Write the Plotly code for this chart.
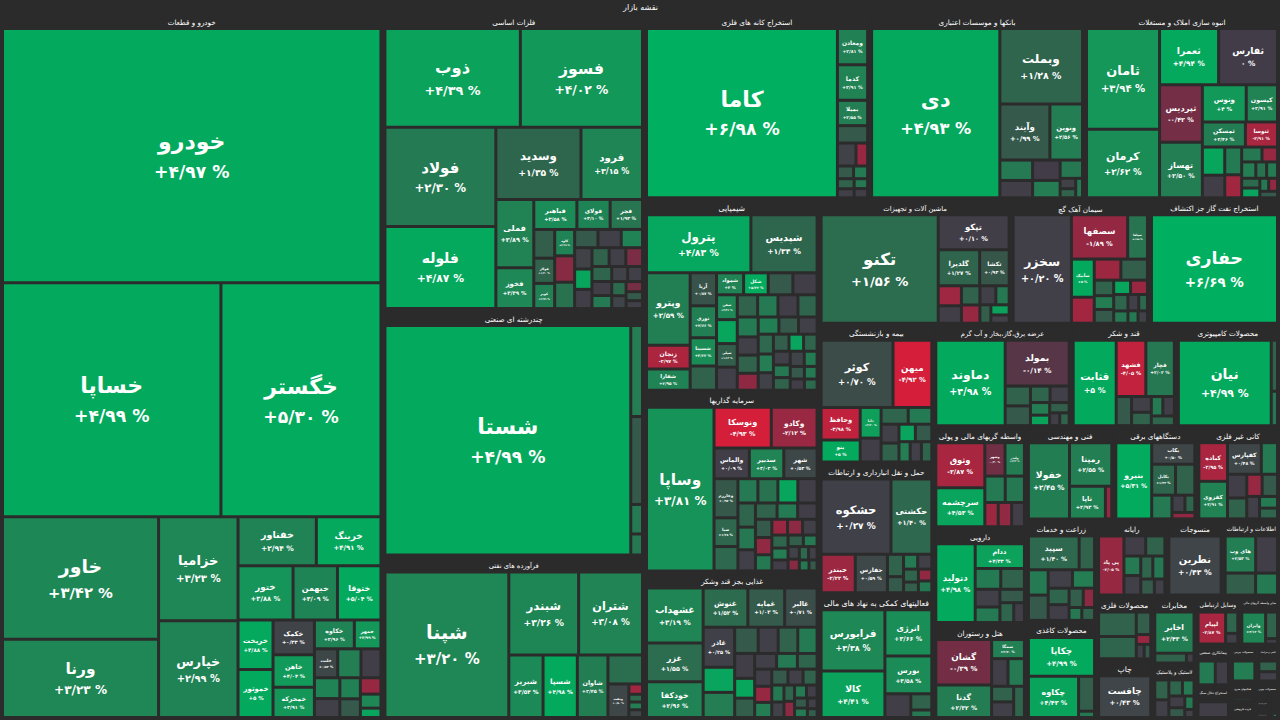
import math
import plotly.graph_objects as go

BG = "#2b2b2b"
FONT = "DejaVu Sans"

ROOT_LABEL = "نقشه بازار"

SECTORS = [
    "خودرو و قطعات", "فلزات اساسی", "چندرشته ای صنعتی", "فرآورده های نفتی",
    "استخراج کانه های فلزی", "بانکها و موسسات اعتباری", "انبوه سازی املاک و مستغلات",
    "شیمیایی", "سرمایه گذاریها", "غذایی بجز قند وشکر", "ماشین آلات و تجهیزات",
    "سیمان آهک گچ", "استخراج نفت گاز جز اکتشاف", "بیمه و بازنشستگی",
    "حمل و نقل انبارداری و ارتباطات", "فعالیتهای کمکی به نهاد های مالی",
    "عرضه برق،گاز،بخار و آب گرم", "قند و شکر", "محصولات کامپیوتری",
    "واسطه گریهای مالی و پولی", "دارویی", "هتل و رستوران", "فنی و مهندسی",
    "دستگاههای برقی", "کانی غیر فلزی", "زراعت و خدمات", "محصولات کاغذی",
    "رایانه", "منسوجات", "اطلاعات و ارتباطات", "محصولات فلزی", "چاپ", "مخابرات",
    "لاستیک و پلاستیک", "وسایل ارتباطی", "سایر واسطه گریهای مالی",
    "پیمانکاری صنعتی", "استخراج ذغال سنگ", "محصولات چرمی", "کاشی و سرامیک",
    "فعالیتهای هنری", "خرده فروشی", "محصولات چوبی", "استخراج سایر معادن",
    "فعالیتهای مهندسی",
]

# labelled symbols of each sector (market value, arbitrary units) and daily change (%)
STOCK_NAMES = [
    ["خودرو", "خساپا", "خگستر", "خاور", "ورنا", "خزامیا", "خپارس", "خفناور", "خرینگ", "ختور",
     "خبهمن", "ختوقا", "خریخت", "خموتور", "خکمک", "خاهن", "خمحرکه", "خکاوه", "خمهر", "خلنت"],
    ["ذوب", "فسوز", "فولاد", "فلوله", "وسدید", "فرود", "فملی", "فخوز", "فباهنر", "فولای",
     "فجر", "فولاژ", "کویر", "کاوه"],
    ["شستا"],
    ["شپنا", "شبندر", "شتران", "شبریز", "شسپا", "شاوان", "ونفت"],
    ["کاما", "ومعادن", "کدما", "بمیلا"],
    ["دی", "وبملت", "وآیند", "ونوین"],
    ["ثامان", "کرمان", "ثعمرا", "ثفارس", "ثپردیس", "تهساز", "ونوس", "کیسون", "ثمسکن", "ثنوسا"],
    ["پترول", "شپدیس", "وپترو", "زنجان", "شفارا", "آریا", "نوری", "شسینا", "شمواد", "شکل",
     "شفن", "شپلی"],
    ["وساپا", "ونوسکا", "وکادو", "والماس", "سدبیر", "شهر", "وخارزم", "صبا"],
    ["غشهداب", "غزر", "خودکفا", "غنوش", "غمایه", "غالبر", "غاذر"],
    ["تکنو", "تپکو", "گلدیرا", "تکشا"],
    ["سخزر", "سصفها", "سپاها", "سآبیک"],
    ["حفاری"],
    ["کوثر", "میهن", "وحافظ", "بنو", "دانا"],
    ["حشکوه", "حکشتی", "حبندر", "حفارس"],
    ["فرابورس", "کالا", "انرژی", "بورس"],
    ["دماوند", "بمولد"],
    ["قثابت", "فشهد", "قچار"],
    ["نیان"],
    ["وثوق", "سرچشمه", "وشهر", "ولغدر"],
    ["دتولید", "ددام"],
    ["گشان", "گدنا", "سمگا"],
    ["خفولا", "رمپنا", "تاپا"],
    ["بنیرو", "بکاب", "بکابل"],
    ["کباده", "کفزوی", "کفپارس"],
    ["سپید"],
    ["چکاپا", "چکاوه"],
    ["پی پاد"],
    ["نطرین"],
    ["های وب"],
    [],
    ["چافست"],
    ["اخابر"],
    [],
    ["لپیام"],
    ["وایران"],
    [], [], [], [], [], [], [], [], [],
]

STOCK_VALUES = [
    [1001, 531, 389, 199, 127, 86, 80, 40, 33, 31, 25, 24.5, 18, 17.5, 15, 14, 13, 12, 8, 7],
    [144.7, 130.5, 119, 98.5, 66.4, 48, 28, 16.8, 14, 10.8, 10.5, 5.7, 5.7, 5.7],
    [617.6],
    [205.3, 66, 60.4, 24.4, 24.4, 21.8, 8],
    [363.7, 12.3, 12.1, 8.6],
    [244.5, 70.3, 31.6, 20.6],
    [83, 56.5, 37.5, 37.4, 27.8, 26.8, 18.4, 13.1, 12.2, 9.1],
    [68.3, 43.3, 35.6, 11.7, 10.5, 9.8, 9.5, 8.4, 6.7, 6.1, 5.8, 5.5],
    [125.4, 26.5, 21.2, 12.3, 12.0, 11.6, 10.6, 7.8],
    [36.3, 25.6, 23.5, 20.4, 16.8, 14.8, 14.7],
    [150.7, 29.4, 17.7, 12.6],
    [75.6, 29.8, 10.5, 10.4],
    [163.8],
    [57.3, 30.9, 15.1, 10.2, 7.6],
    [63, 36.8, 15.7, 14.8],
    [47.1, 35.7, 26.2, 21.3],
    [73.5, 36.4],
    [46, 20.9, 20.1],
    [99.4],
    [27.9, 24.1, 8.5, 8.2],
    [39.6, 15.5],
    [32.4, 23.2, 8.0],
    [40.3, 23.7, 15.1],
    [35.3, 12.0, 9.5],
    [14.3, 13.9, 13.8],
    [22.0],
    [33.2, 26.7],
    [20.6],
    [43.1],
    [15.8],
    [],
    [33.1],
    [23.8],
    [],
    [14.9],
    [13.0],
    [], [], [], [], [], [], [], [], [],
]

STOCK_CHANGES = [
    [4.97, 4.99, 5.30, 3.42, 3.23, 3.23, 2.99, 2.94, 4.91, 3.88, 3.09, 5.04, 4.88, 5.00, 0.33,
     4.04, 3.91, 2.96, 3.99, 0.53],
    [4.39, 4.02, 2.30, 4.87, 1.35, 3.15, 2.89, 3.39, 3.58, 3.10, 1.93, 1.20, 2.79, 2.99],
    [4.99],
    [3.20, 3.26, 3.08, 3.54, 4.98, 2.45, 0.50],
    [6.98, 2.81, 2.91, 2.55],
    [4.93, 1.28, 0.99, 2.56],
    [3.94, 3.63, 4.94, 0, -0.42, 2.50, 4.00, 2.91, 2.46, -2.91],
    [4.83, 1.34, 2.59, -2.97, 2.95, 0.87, 2.66, 3.62, 3.00, 5.22, 3.36, 1.12],
    [3.81, -4.93, -2.12, 0.09, 3.03, 0.53, 0.97, 1.38],
    [3.19, 1.55, 2.96, 1.52, 1.03, 0.71, 0.25],
    [1.56, 0.10, 1.27, 0.93],
    [0.20, -1.89, 1.85, 5.00],
    [6.69],
    [0.70, -4.92, -3.98, 5.00, 4.20],
    [0.27, 1.40, -2.22, 0.59],
    [3.38, 4.41, 3.66, 3.58],
    [4.98, -0.14],
    [5, -4.05, 2.02],
    [4.99],
    [-2.87, 4.53, -0.30, 2.33],
    [4.98, 4.33],
    [-0.39, 2.32, 2.70],
    [2.45, 2.55, 2.93],
    [5.31, 0.50, 1.34],
    [-2.95, 2.91, 0.48],
    [1.40],
    [4.99, 4.43],
    [-2.05],
    [0.43],
    [2.53],
    [],
    [0.43],
    [2.43],
    [],
    [-2.87],
    [3.12],
    [], [], [], [], [], [], [], [], [],
]

# small symbols whose names are too small to be printed on the map
OTHER_VALUES = [
    [7, 6, 5.5, 5, 4.5, 4, 3.5, 3, 2],
    [6.5, 5.7, 5.7, 4.6, 4.6, 4.2, 4.0, 3.8, 3.6, 3.5, 3.4, 3.4, 3.2, 3.0, 2.8, 2.6, 2.4, 2.2,
     2.0, 1.8, 1.6, 1.4],
    [11.7, 11.3, 3.8, 2.7],
    [11.4, 1.6, 1.2, 1.2, 1.2],
    [5.9, 4.8, 3.0, 2.3, 2.0, 1.9, 1.7, 1.5, 1.4],
    [7.5, 6.4, 6.3, 5.4, 4.6, 1.8, 1.6, 1.5],
    [7.1, 5.7, 5.3, 4.4, 3.4, 2.6, 2.6, 2.0, 2.0, 2.0, 2.0, 1.3, 1.3, 1.3],
    [7.2, 6.1, 6.0, 5.6, 5.4, 5.1, 5.1, 5.0, 4.8, 4.7, 4.3, 4.3, 4.0, 4.0, 3.8, 3.6, 3.4, 3.2,
     3.0, 3.0, 2.8, 2.6, 2.6, 2.4, 2.4, 2.4, 2.2, 2.0, 1.8, 1.8, 1.6],
    [6.6, 5.5, 5.5, 5.5, 5.3, 4.8, 4.5, 4.2, 4.0, 3.8, 3.6, 3.4, 3.2, 3.0, 2.8, 2.7, 2.6, 2.4,
     2.2, 2.0, 2.0, 1.8, 1.6, 1.5, 1.4, 1.3, 1.2, 1.0],
    [9.2, 9.2, 7.2, 6.1, 6.0, 5.9, 5.8, 4.6, 4.5, 4.0, 3.8, 3.6, 3.4, 3.2, 3.0, 3.0, 2.8, 2.6,
     2.4, 2.2, 2.0, 2.0, 1.8, 1.6, 1.5, 1.4, 1.2, 1.0],
    [5.5, 4.8, 4.2, 4.0, 3.6, 3.0, 2.4, 2.2, 1.8],
    [7.1, 6.7, 6.7, 3.6, 3.2, 3.2, 2.9, 2.9, 2.8, 2.1, 2.1, 1.7, 1.5, 1.4],
    [],
    [5.9, 5.4, 4.7, 4.0, 4.0, 3.4, 3.4, 2.7, 2.7, 2.5],
    [4.3, 3.1, 2.5, 2.5, 2.3, 1.9, 1.9, 1.9],
    [7.4, 4.1, 1.9],
    [6.2, 6.2, 4.0, 3.9, 3.0, 2.5, 2.5, 1.6, 1.5],
    [5.6, 3.9, 3.3, 2.8, 2.8, 2.8],
    [4.0, 2.7],
    [6.8, 6.4, 4.1, 4.1, 3.9],
    [6.8, 6.3, 5.6, 4.9, 4.2, 3.5, 2.7],
    [5.8, 5.8, 4.4, 4.4, 4.3],
    [2.7],
    [7.7, 6.2, 2.9, 2.2, 1.9],
    [6.6, 5.9, 5.2, 4.4, 4.4, 3.7, 2.7, 2.5],
    [6.7, 6.4, 6.4, 5.7, 5.2, 4.4, 4.2, 3.5, 2.8, 2.1, 2.1],
    [7.2, 1.3],
    [6.0, 5.3, 4.5, 4.5, 3.8, 3.8, 3.0, 2.3],
    [],
    [11.3, 9.3, 6.7],
    [13.6, 12.4, 4.8, 2.1, 1.7, 1.4],
    [],
    [4.6, 1.1],
    [4.5, 4.0, 3.5, 3.0, 3.0, 2.5, 2.0, 1.2],
    [4.4, 2.2],
    [5.4, 1.1],
    [8.0, 6.1],
    [11.3],
    [9.8],
    [4.5, 3.9],
    [4.9],
    [4.0],
    [3.8],
    [3.3],
    [2.0],
]

OTHER_CHANGES = [
    [2.5, 0.1, 3.0, 0.2, 2.8, 1.0, -2.0, 3.2, 4.5],
    [1.1, -1.2, 1.8, 1.0, 0.2, 3.0, 0.3, 4.6, 0.1, 1.2, 0.2, -0.6, 1.3, 0.1, 2.2, 0.3, 0.2, 1.5,
     0.4, -0.5, 1.0, 0.2],
    [2.4, 1.0, 2.2, 2.0],
    [1.6, -2.5, 1.5, 2.5, 0.5],
    [1.0, 0.3, -2.2, 1.0, 2.3, 1.2, 0.2, 2.0, 0.1],
    [2.2, 0.1, 0.0, 2.4, 2.0, 0.3, 1.2, 2.2],
    [4.6, 0.1, 2.3, -2.5, 2.0, -2.0, 2.5, 1.8, 2.2, 1.5, 4.5, 2.0, -1.8, 1.0],
    [1.2, 1.0, 0.1, 4.6, 0.2, 1.2, 2.2, 0.1, 1.3, 2.3, 0.2, 1.2, -1.6, 2.6, 1.0, 0.2, 1.4, 2.4,
     0.3, 1.1, 4.5, 1.3, 0.2, 2.0, 1.2, 0.4, 2.3, 1.0, 0.1, 2.2, 1.5],
    [1.4, 2.2, 1.8, 4.6, 0.1, 1.3, 2.0, 0.2, 1.2, 2.3, 0.1, 1.0, -1.8, 2.1, -2.2, -1.5, 0.2, 1.3,
     2.4, 0.1, 1.1, 2.2, 0.3, -1.2, 1.4, 0.2, 2.0, 1.0],
    [4.5, 2.4, 1.0, 0.2, 1.2, 2.3, 0.1, 4.6, 1.1, 0.2, 2.2, 1.3, 0.1, -2.0, 2.4, 1.0, 0.2, 1.2,
     2.1, 0.3, 1.3, -1.5, 2.2, 0.1, 1.0, 2.3, 0.2, 1.1],
    [-2.4, 0.1, 1.2, -2.0, 0.2, 2.0, 1.1, 4.4, 0.2],
    [-2.6, -2.3, 1.1, 1.2, 2.4, 1.0, 4.6, -2.2, 1.3, 2.0, 0.2, 1.4, 2.1, 0.3],
    [],
    [0.1, 1.3, 2.3, 0.2, 1.2, 4.5, 1.0, 2.4, 0.2, 1.3],
    [1.2, 1.0, 2.2, 0.2, 1.3, 1.1, -1.8, 2.1],
    [0.1, 1.2, 2.0],
    [1.2, 1.0, 1.3, 0.2, 2.4, 4.4, 1.1, 0.1, 1.2],
    [1.0, 0.2, 1.2, 2.2, 0.1, 1.3],
    [1.2, 2.0],
    [2.2, 2.0, -2.3, -1.8, 0.1],
    [2.3, 1.2, 0.2, 2.2, 1.0, 1.3, 0.1],
    [0.1, 2.2, 1.2, 0.2, 1.3],
    [-2.0],
    [1.2, 2.2, 0.2, 1.3, -1.6],
    [2.2, 0.1, 1.2, -2.0, 1.0, 0.2, 2.3, 1.3],
    [1.2, 2.2, 1.0, 0.2, 2.4, 1.3, 0.1, 1.1, -1.5, 2.0, 1.2],
    [1.1, 2.0],
    [0.1, 1.2, 2.2, 0.2, 1.3, 2.0, 1.0, 0.2],
    [],
    [0.1, 1.1, 2.2],
    [1.2, 1.3, 1.1, -2.2, 0.2, 1.0],
    [],
    [1.2, 0.2],
    [1.2, 0.2, 1.3, 2.2, 0.1, 1.0, 2.1, 0.3],
    [1.3, 0.2],
    [1.2, 0.1],
    [2.3, 0.1],
    [0.1],
    [2.4],
    [1.2, 0.2],
    [2.2],
    [1.2],
    [-1.8],
    [0.2],
    [2.1],
]

# colour of a cell as a function of its daily change (%)
COLOR_STOPS = [
    (-5.0, (214, 30, 58)), (-3.5, (182, 36, 62)), (-2.0, (150, 40, 66)),
    (-0.8, (128, 44, 68)), (-0.3, (112, 47, 69)), (0.0, (66, 60, 72)),
    (0.6, (62, 72, 72)), (1.2, (48, 98, 76)), (2.0, (38, 120, 82)),
    (3.5, (29, 137, 86)), (4.3, (12, 162, 92)), (5.0, (3, 170, 94)), (7.0, (0, 176, 96)),
]

FA = str.maketrans("0123456789.", "۰۱۲۳۴۵۶۷۸۹/")


def change_color(p):
    if p <= COLOR_STOPS[0][0]:
        c = COLOR_STOPS[0][1]
    elif p >= COLOR_STOPS[-1][0]:
        c = COLOR_STOPS[-1][1]
    else:
        for (p0, c0), (p1, c1) in zip(COLOR_STOPS, COLOR_STOPS[1:]):
            if p0 <= p <= p1:
                t = (p - p0) / (p1 - p0)
                c = tuple(round(a + (b - a) * t) for a, b in zip(c0, c1))
                break
    return "rgb(%d,%d,%d)" % c


def fmt_change(p):
    s = "%d" % abs(p) if float(p).is_integer() else "%.2f" % abs(p)
    sign = "+" if p > 0 else ("-" if p < 0 else "")
    return (sign + s).translate(FA) + " %"


n = len(SECTORS)
assert all(len(a) == n for a in (STOCK_NAMES, STOCK_VALUES, STOCK_CHANGES, OTHER_VALUES, OTHER_CHANGES))
for i in range(n):
    assert len(STOCK_NAMES[i]) == len(STOCK_VALUES[i]) == len(STOCK_CHANGES[i]), i
    assert len(OTHER_VALUES[i]) == len(OTHER_CHANGES[i]), i

ids, labels, parents, values, colors, texts, sizes = [], [], [], [], [], [], []
ids.append("root"); labels.append(ROOT_LABEL); parents.append(""); values.append(0)
colors.append(BG); texts.append("<b>%s</b>" % ROOT_LABEL); sizes.append(11)

for s, sector in enumerate(SECTORS):
    sid = "s%d" % s
    ids.append(sid); labels.append(sector); parents.append("root"); values.append(0)
    colors.append(BG); texts.append("<b>%s</b>" % sector); sizes.append(12)
    for name, v, p in zip(STOCK_NAMES[s], STOCK_VALUES[s], STOCK_CHANGES[s]):
        fs = min(22.0, 2.0 + 1.2 * math.sqrt(v))
        ids.append(sid + "/" + name); labels.append(name); parents.append(sid); values.append(v)
        colors.append(change_color(p))
        texts.append("<b>%s</b><br><span style='font-size:%.1fpx'><b>%s</b></span>"
                     % (name, fs * 0.78, fmt_change(p)))
        sizes.append(round(fs, 1))
    for k, (v, p) in enumerate(zip(OTHER_VALUES[s], OTHER_CHANGES[s])):
        ids.append("%s/_%d" % (sid, k)); labels.append("سایر نمادها"); parents.append(sid)
        values.append(v); colors.append(change_color(p)); texts.append(""); sizes.append(6)

fig = go.Figure(go.Treemap(
    ids=ids, labels=labels, parents=parents, values=values,
    branchvalues="remainder", sort=True,
    text=texts, textinfo="text", textposition="middle center",
    textfont=dict(family=FONT, size=sizes, color="#ffffff"),
    outsidetextfont=dict(family=FONT, size=8, color="#ffffff"),
    marker=dict(colors=colors, line=dict(width=0, color=BG), pad=dict(t=15, l=2, r=2, b=2)),
    tiling=dict(packing="squarify", squarifyratio=1, pad=3),
    pathbar=dict(visible=False),
    root=dict(color=BG),
    hoverinfo="none",
))
fig.update_layout(
    width=1280, height=720,
    margin=dict(l=0, r=0, t=0, b=0),
    paper_bgcolor=BG, plot_bgcolor=BG,
    font=dict(family=FONT, color="#ffffff"),
    hovermode=False,
)
fig.write_html(
    "out.html",
    config={"displayModeBar": False},
    post_script="document.body.style.margin='0';document.body.style.background='%s';" % BG,
)
